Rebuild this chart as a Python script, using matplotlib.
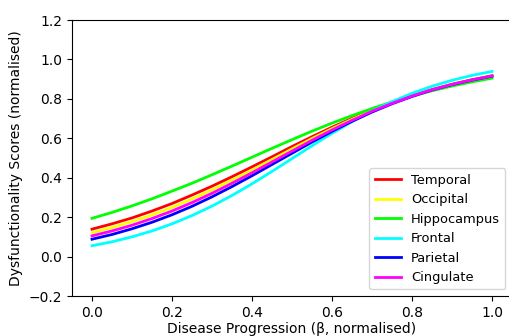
import matplotlib
matplotlib.use("Agg")
import matplotlib.pyplot as plt

progression = [0.00, 0.05, 0.10, 0.15, 0.20, 0.25, 0.30, 0.35, 0.40, 0.45, 0.50,
               0.55, 0.60, 0.65, 0.70, 0.75, 0.80, 0.85, 0.90, 0.95, 1.00]

temporal = [0.139, 0.166, 0.196, 0.231, 0.269, 0.312, 0.357, 0.405, 0.455, 0.506, 0.558,
            0.608, 0.656, 0.701, 0.744, 0.782, 0.817, 0.847, 0.874, 0.897, 0.917]
occipital = [0.121, 0.147, 0.177, 0.211, 0.249, 0.292, 0.338, 0.388, 0.439, 0.492, 0.546,
             0.599, 0.649, 0.696, 0.740, 0.780, 0.815, 0.846, 0.873, 0.896, 0.916]
hippocampus = [0.194, 0.224, 0.257, 0.293, 0.332, 0.372, 0.415, 0.459, 0.504, 0.549, 0.593,
               0.636, 0.677, 0.715, 0.751, 0.784, 0.814, 0.841, 0.865, 0.886, 0.905]
frontal = [0.055, 0.075, 0.100, 0.130, 0.166, 0.208, 0.256, 0.310, 0.369, 0.432, 0.497,
           0.562, 0.625, 0.684, 0.738, 0.786, 0.828, 0.864, 0.894, 0.919, 0.939]
parietal = [0.088, 0.112, 0.141, 0.174, 0.212, 0.255, 0.303, 0.355, 0.410, 0.467, 0.524,
            0.581, 0.635, 0.686, 0.733, 0.775, 0.812, 0.845, 0.872, 0.895, 0.915]
cingulate = [0.105, 0.130, 0.159, 0.193, 0.231, 0.274, 0.321, 0.372, 0.425, 0.480, 0.535,
             0.590, 0.642, 0.691, 0.737, 0.777, 0.814, 0.846, 0.873, 0.896, 0.916]

regions = ["Temporal", "Occipital", "Hippocampus", "Frontal", "Parietal", "Cingulate"]
colors = ["#ff0000", "#ffff00", "#00ff00", "#00ffff", "#0000ff", "#ff00ff"]
series = [temporal, occipital, hippocampus, frontal, parietal, cingulate]

fig = plt.figure(figsize=(5.1, 3.36), dpi=100)
ax = fig.add_axes([72 / 510, 40 / 336, 440 / 510, 276 / 336])

for name, color, values in zip(regions, colors, series):
    ax.plot(progression, values, color=color, linewidth=2, label=name)

ax.set_xlim(-0.05, 1.05)
ax.set_ylim(-0.2, 1.2)
ax.set_xticks([0.0, 0.2, 0.4, 0.6, 0.8, 1.0])
ax.set_yticks([-0.2, 0.0, 0.2, 0.4, 0.6, 0.8, 1.0, 1.2])
ax.set_xlabel("Disease Progression (β, normalised)", labelpad=2)
ax.set_ylabel("Dysfunctionality Scores (normalised)")
ax.legend(loc="lower right", fontsize=9.4)

fig.savefig("out.png", dpi=100)
